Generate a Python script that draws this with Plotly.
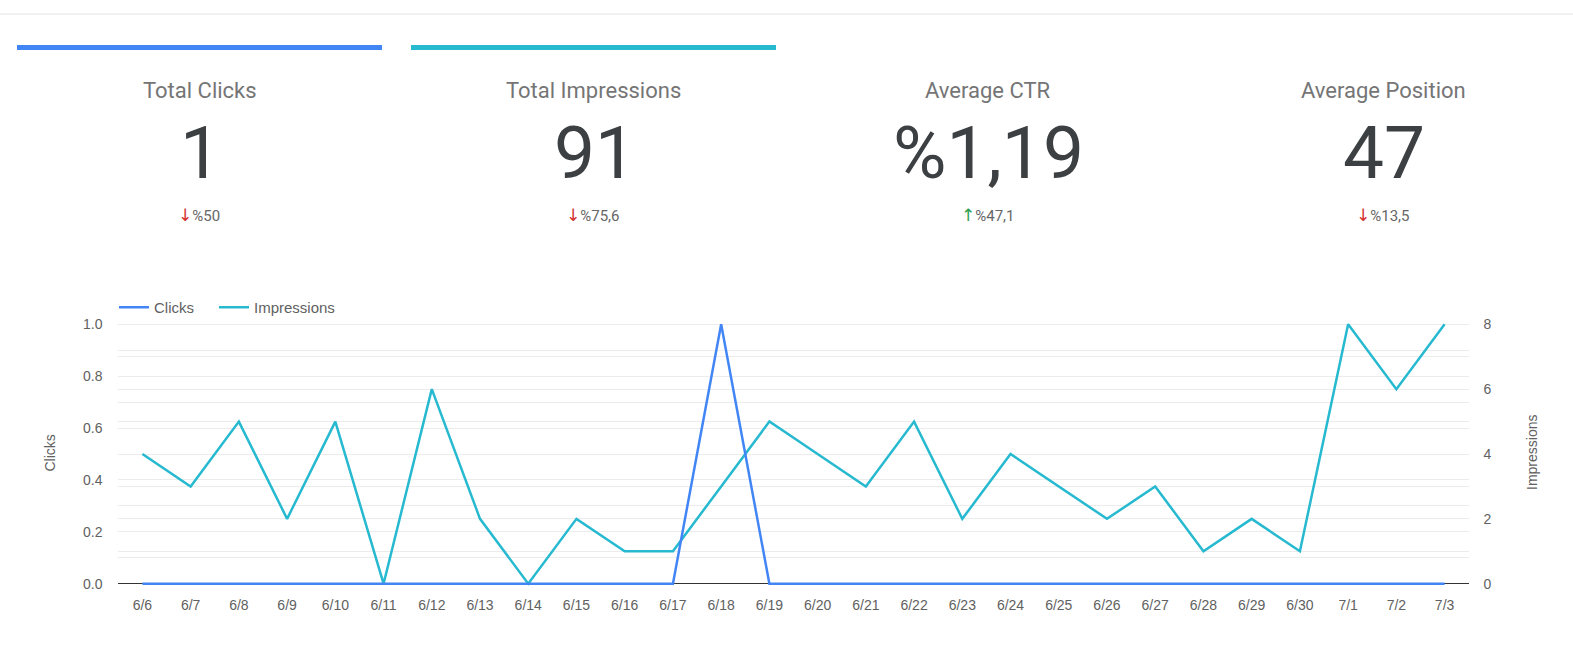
import plotly.graph_objects as go

# ---------------- data ----------------
dates = ["6/6", "6/7", "6/8", "6/9", "6/10", "6/11", "6/12", "6/13", "6/14", "6/15",
         "6/16", "6/17", "6/18", "6/19", "6/20", "6/21", "6/22", "6/23", "6/24", "6/25",
         "6/26", "6/27", "6/28", "6/29", "6/30", "7/1", "7/2", "7/3"]
clicks = [0, 0, 0, 0, 0, 0, 0, 0, 0, 0, 0, 0, 1, 0, 0, 0, 0, 0, 0, 0, 0, 0, 0, 0, 0, 0, 0, 0]
impressions = [4, 3, 5, 2, 5, 0, 6, 2, 0, 2, 1, 1, 3, 5, 4, 3, 5, 2, 4, 3, 2, 3, 1, 2, 1, 8, 6, 8]

kpi_titles = ["Total Clicks", "Total Impressions", "Average CTR", "Average Position"]
kpi_values = ["1", "91", "%1,19", "47"]
kpi_deltas = ["%50", "%75,6", "%47,1", "%13,5"]
kpi_dirs = ["down", "down", "up", "down"]

left_ticks = [0.0, 0.2, 0.4, 0.6, 0.8, 1.0]
right_ticks = [0, 2, 4, 6, 8]

# ---------------- style ----------------
W, H = 1573, 651
BLUE = "#4285f4"
TEAL = "#26b9d0"
GRID = "#ececec"
AXTXT = "#616161"
CHART_FONT = "Arial, 'Liberation Sans', sans-serif"
CARD_FONT = "Roboto, sans-serif"


def px(x):
    return x / W


def py(y):
    return 1 - y / H


fig = go.Figure()

fig.add_trace(go.Scatter(
    x=dates, y=impressions, name="Impressions", mode="lines",
    line=dict(color=TEAL, width=2.5), yaxis="y", xaxis="x", legend="legend2",
))
fig.add_trace(go.Scatter(
    x=dates, y=clicks, name="Clicks", mode="lines",
    line=dict(color=BLUE, width=2.5), yaxis="y2", xaxis="x", legend="legend",
))

ydom = [py(586.3), py(321.7)]

annotations = []
card_centers = [199.5, 593.5, 988, 1383]
for cx, t, v, d, dr in zip(card_centers, kpi_titles, kpi_values, kpi_deltas, kpi_dirs):
    annotations.append(dict(
        x=px(cx), y=py(91), xref="paper", yref="paper", text=t, showarrow=False,
        xanchor="center", yanchor="middle",
        font=dict(family=CARD_FONT, size=22, color="#757575"),
    ))
    annotations.append(dict(
        x=px(cx + 1), y=py(153), xref="paper", yref="paper", text=v, showarrow=False,
        xanchor="center", yanchor="middle",
        font=dict(family=CARD_FONT, size=73, color="#3c4043"),
    ))
    arrow_col = "#d32f2f" if dr == "down" else "#2e9e50"
    arrow = "\u2193" if dr == "down" else "\u2191"
    annotations.append(dict(
        x=px(cx - 1), y=py(215), xref="paper", yref="paper",
        text=(f"<span style='color:{arrow_col};font-size:17px;font-family:DejaVu Sans'>"
              f"{arrow}</span>{d}"),
        showarrow=False, xanchor="center", yanchor="middle",
        font=dict(family=CARD_FONT, size=15, color="#666666"),
    ))

annotations.append(dict(
    x=px(49.5), y=py(453), xref="paper", yref="paper", text="Clicks", showarrow=False,
    textangle=-90, xanchor="center", yanchor="middle",
    font=dict(family=CHART_FONT, size=14, color=AXTXT),
))
annotations.append(dict(
    x=px(1532), y=py(453), xref="paper", yref="paper", text="Impressions", showarrow=False,
    textangle=-90, xanchor="center", yanchor="middle",
    font=dict(family=CHART_FONT, size=14, color=AXTXT),
))

shapes = [
    dict(type="line", xref="paper", yref="paper", x0=0, x1=1, y0=py(14), y1=py(14),
         line=dict(color="#e3e3e3", width=1)),
    dict(type="rect", xref="paper", yref="paper", x0=px(17), x1=px(382), y0=py(50), y1=py(45),
         fillcolor=BLUE, line=dict(width=0)),
    dict(type="rect", xref="paper", yref="paper", x0=px(411), x1=px(776), y0=py(50), y1=py(45),
         fillcolor=TEAL, line=dict(width=0)),
]

legend_common = dict(orientation="h", xanchor="left", yanchor="middle",
                     font=dict(family=CHART_FONT, size=15, color=AXTXT),
                     bgcolor="rgba(0,0,0,0)")

fig.update_layout(
    width=W, height=H,
    margin=dict(l=0, r=0, t=0, b=0, pad=0, autoexpand=False),
    paper_bgcolor="white", plot_bgcolor="white",
    font=dict(family=CHART_FONT, size=14, color=AXTXT),
    showlegend=True,
    legend=dict(x=px(114), y=py(307.5), **legend_common),
    legend2=dict(x=px(214), y=py(307.5), **legend_common),
    xaxis=dict(
        type="category", categoryorder="array", categoryarray=dates,
        domain=[px(118.3), px(1468.7)], range=[-0.5, len(dates) - 0.5],
        showgrid=False, showline=False, zeroline=False, automargin=False,
        ticks="outside", ticklen=6, tickcolor="rgba(0,0,0,0)",
        tickfont=dict(family=CHART_FONT, size=14, color=AXTXT),
    ),
    yaxis=dict(
        domain=ydom, side="right", range=[-0.08, 8.08], automargin=False,
        tickvals=right_ticks, showgrid=True, gridcolor=GRID, gridwidth=1,
        zeroline=False,
        minor=dict(dtick=1, showgrid=True, gridcolor=GRID),
        ticks="outside", ticklen=11, tickcolor="rgba(0,0,0,0)",
        tickfont=dict(family=CHART_FONT, size=14, color=AXTXT),
        anchor="x",
    ),
    yaxis2=dict(
        overlaying="y", side="left", range=[-0.01, 1.01], automargin=False,
        tickvals=left_ticks, tickformat=".1f",
        showgrid=True, gridcolor=GRID, gridwidth=1,
        minor=dict(dtick=0.1, tick0=0, showgrid=True, gridcolor=GRID),
        zeroline=True, zerolinecolor="#333333", zerolinewidth=1,
        ticks="outside", ticklen=12, tickcolor="rgba(0,0,0,0)",
        tickfont=dict(family=CHART_FONT, size=14, color=AXTXT),
        anchor="x",
    ),
    annotations=annotations,
    shapes=shapes,
)

fig.write_html("out.html", config={"displayModeBar": False},
               post_script="document.body.style.margin='0';")
